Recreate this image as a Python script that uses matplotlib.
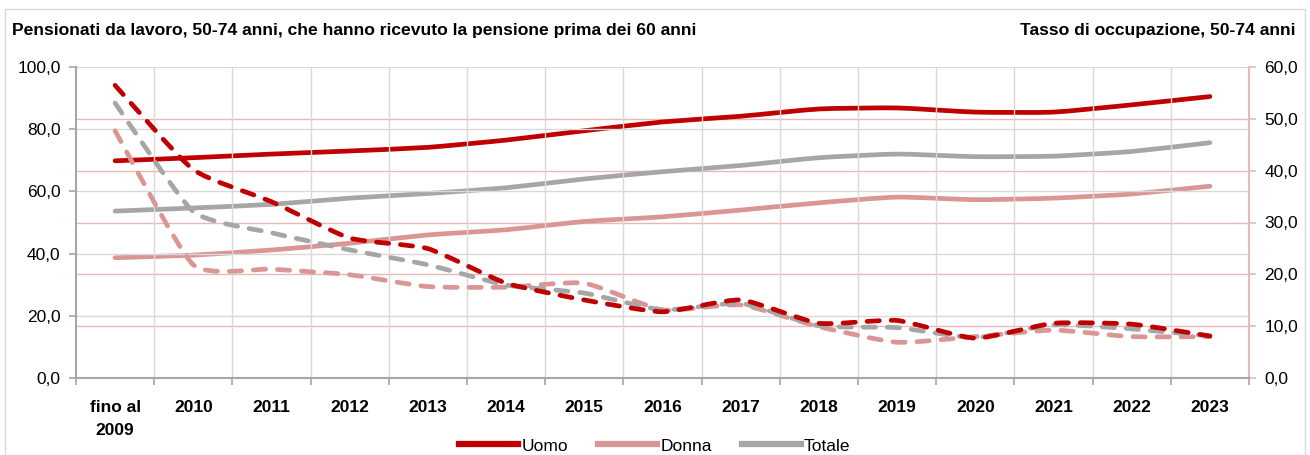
import matplotlib
matplotlib.use("Agg")
import matplotlib.pyplot as plt
import numpy as np
from matplotlib.path import Path
from matplotlib.patches import PathPatch, Rectangle
from matplotlib.lines import Line2D
from matplotlib.ticker import FuncFormatter

categories = ["fino al\n2009", "2010", "2011", "2012", "2013", "2014", "2015", "2016",
              "2017", "2018", "2019", "2020", "2021", "2022", "2023"]

# Tasso di occupazione, 50-74 anni (right axis)
occ_uomo = [41.9, 42.5, 43.2, 43.8, 44.5, 45.9, 47.7, 49.4, 50.5, 51.9, 52.1, 51.3, 51.3, 52.7, 54.3]
occ_donna = [23.2, 23.7, 24.7, 26.0, 27.6, 28.6, 30.2, 31.1, 32.4, 33.8, 34.9, 34.4, 34.7, 35.5, 37.0]
occ_totale = [32.2, 32.8, 33.5, 34.7, 35.6, 36.7, 38.4, 39.8, 41.0, 42.5, 43.2, 42.7, 42.8, 43.7, 45.4]

# Pensionati prima dei 60 anni (left axis)
pens_uomo = [94.1, 67.0, 56.7, 45.0, 41.6, 30.5, 25.1, 21.3, 25.1, 17.6, 18.5, 12.8, 17.6, 17.3, 13.5]
pens_donna = [79.5, 36.4, 35.0, 33.2, 29.4, 29.2, 30.5, 21.9, 23.5, 16.5, 11.5, 13.3, 15.4, 13.3, 13.3]
pens_totale = [88.4, 53.5, 46.7, 41.2, 36.4, 29.9, 27.3, 21.9, 24.0, 16.8, 16.2, 13.0, 17.1, 15.8, 13.5]

series_names = ["Uomo", "Donna", "Totale"]
colors = ["#C00000", "#DA9694", "#A6A6A6"]

FONT = ["Liberation Sans Narrow", "Liberation Sans", "DejaVu Sans"]
plt.rcParams["font.family"] = FONT

TENSION = 0.09


def smooth_path(xs, ys):
    xs = np.asarray(xs, float)
    ys = np.asarray(ys, float)
    pts = np.column_stack([xs, ys])
    n = len(pts)
    verts = [pts[0]]
    codes = [Path.MOVETO]
    for i in range(n - 1):
        p0 = pts[i - 1] if i > 0 else pts[i]
        p1 = pts[i]
        p2 = pts[i + 1]
        p3 = pts[i + 2] if i + 2 < n else pts[i + 1]
        c1 = p1 + (p2 - p0) * TENSION
        c2 = p2 - (p3 - p1) * TENSION
        verts += [c1, c2, p2]
        codes += [Path.CURVE4] * 3
    return Path(verts, codes)


fig = plt.figure(figsize=(13.1, 4.55), dpi=100)
ax = fig.add_axes([76 / 1310, 1 - 378 / 455, (1249 - 76) / 1310, (378 - 67) / 455])
ax2 = ax.twinx()

x = np.arange(len(categories))
ax.set_xlim(-0.5, len(categories) - 0.5)
ax.set_ylim(0, 100)
ax2.set_ylim(0, 60)

# grid lines
for yv in [20, 40, 60, 80, 100]:
    ax.axhline(yv, color="#D9D9D9", lw=1.0, zorder=0)
for yv in [10, 20, 30, 40, 50]:
    ax2.axhline(yv, color="#E6B8B7", lw=1.0, zorder=0)
for xb in np.arange(0.5, len(categories) - 0.5, 1.0):
    ax.axvline(xb, color="#D9D9D9", lw=1.0, zorder=0)

ax2.set_zorder(ax.get_zorder() - 1)
ax.patch.set_visible(False)

LW = 3.4
# solid lines: occupation (right axis)
for vals, c in zip([occ_uomo, occ_donna, occ_totale], colors):
    p = PathPatch(smooth_path(x, vals), fill=False, edgecolor=c, lw=LW,
                  capstyle="round", joinstyle="round", transform=ax2.transData, zorder=3)
    ax2.add_patch(p)

# dashed lines: pensioners (left axis)
for vals, c in zip([pens_donna, pens_totale, pens_uomo], [colors[1], colors[2], colors[0]]):
    p = PathPatch(smooth_path(x, vals), fill=False, edgecolor=c, lw=LW,
                  linestyle=(0, (2.6, 2.5)), capstyle="round", joinstyle="round",
                  transform=ax.transData, zorder=3)
    ax.add_patch(p)

fmt = FuncFormatter(lambda v, pos: f"{v:.1f}".replace(".", ","))

ax.set_yticks([0, 20, 40, 60, 80, 100])
ax.yaxis.set_major_formatter(fmt)
ax2.set_yticks([0, 10, 20, 30, 40, 50, 60])
ax2.yaxis.set_major_formatter(fmt)

ax.set_xticks(x)
ax.set_xticklabels(categories, fontweight="bold", fontsize=12.5, linespacing=1.62)
ax.set_xticks(np.arange(-0.5, len(categories), 1.0), minor=True)
ax.tick_params(axis="x", which="major", length=0, pad=16)
ax.tick_params(axis="x", which="minor", length=5, color="#A6A6A6", width=1.2, direction="out")
ax.tick_params(axis="y", length=5, color="#A6A6A6", width=1.2, labelsize=12.5, pad=6)
ax2.tick_params(axis="y", length=5, color="#E6B8B7", width=1.2, labelsize=12.5, pad=6)

for a in (ax, ax2):
    for s in a.spines.values():
        s.set_visible(False)
ax.spines["left"].set_visible(True)
ax.spines["left"].set_color("#A6A6A6")
ax.spines["left"].set_linewidth(1.5)
ax.spines["bottom"].set_visible(True)
ax.spines["bottom"].set_color("#A6A6A6")
ax.spines["bottom"].set_linewidth(1.5)
ax2.spines["right"].set_visible(True)
ax2.spines["right"].set_color("#E6B8B7")
ax2.spines["right"].set_linewidth(1.5)

# titles
fig.text(12 / 1310, 1 - 30 / 455, "Pensionati da lavoro, 50-74 anni, che hanno ricevuto la pensione prima dei 60 anni",
         fontsize=12.6, fontweight="bold", ha="left", va="center")
fig.text(1295 / 1310, 1 - 30 / 455, "Tasso di occupazione, 50-74 anni",
         fontsize=12.6, fontweight="bold", ha="right", va="center")

# legend
handles = [Line2D([0], [0], color=c, lw=4.5) for c in colors]
fig.legend(handles, series_names, loc="center", bbox_to_anchor=(0.5, 1 - 446 / 455),
           ncol=3, frameon=False, fontsize=12.5, handlelength=3.4, handletextpad=0.2,
           columnspacing=1.7)

# outer border
fig.patches.append(Rectangle((5 / 1310, 0), 1 - 10 / 1310, 1 - 9 / 455, transform=fig.transFigure,
                             fill=False, edgecolor="#D9D9D9", lw=1.0))

fig.savefig("out.png", dpi=100)
